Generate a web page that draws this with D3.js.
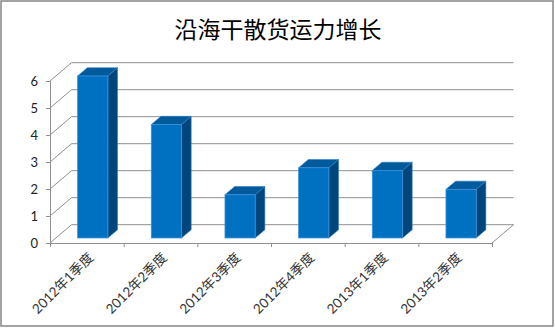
<!DOCTYPE html>
<html>
<head>
<meta charset="utf-8">
<script src="https://cdn.jsdelivr.net/npm/d3@7"></script>
<style>
  html, body { margin: 0; padding: 0; background: #fff; }
  svg { display: block; }
</style>
</head>
<body>
<div id="chart"></div>
<script>
// chart data
const title = "沿海干散货运力增长";
const categories = ["2012年1季度", "2012年2季度", "2012年3季度", "2012年4季度", "2013年1季度", "2013年2季度"];
const values = [6.0, 4.2, 1.6, 2.6, 2.5, 1.8];
const yTicks = [0, 1, 2, 3, 4, 5, 6];

const W = 555, H = 328;
const front = {left: 50, right: 492, top: 81, bottom: 243};
// depth of the 3D box (back wall offset)
const DX = 21.5, DY = -18.3;
// bars sit between these depth fractions
const d0 = 0.275, d1 = 0.725;

const svg = d3.select("#chart").append("svg")
  .attr("width", W)
  .attr("height", H);

// outer frame
svg.append("rect")
  .attr("x", 1).attr("y", 1)
  .attr("width", W - 3).attr("height", H - 3)
  .attr("fill", "#fff")
  .attr("stroke", "#868686")
  .attr("stroke-width", 1.5);

svg.append("text")
  .attr("x", 278)
  .attr("y", 38)
  .attr("text-anchor", "middle")
  .attr("font-family", "'Noto Sans CJK SC', sans-serif")
  .attr("font-size", 23)
  .attr("fill", "#000")
  .text(title);

const x = d3.scaleBand()
  .domain(categories)
  .range([front.left, front.right])
  .paddingInner(0.59)
  .paddingOuter(0.295);

const xBounds = d3.scaleLinear()
  .domain([0, categories.length])
  .range([front.left, front.right]);

const y = d3.scaleLinear()
  .domain([0, 6])
  .range([front.bottom, front.top]);

const gridColor = "#8f8f8f";
const g = svg.append("g");

// back wall gridlines
g.selectAll(".grid")
  .data(yTicks)
  .join("line")
  .attr("x1", front.left + DX)
  .attr("x2", front.right + DX)
  .attr("y1", d => y(d) + DY)
  .attr("y2", d => y(d) + DY)
  .attr("stroke", gridColor)
  .attr("stroke-width", 1);

// side wall diagonals
g.selectAll(".wall")
  .data(yTicks)
  .join("line")
  .attr("x1", front.left)
  .attr("y1", d => y(d))
  .attr("x2", front.left + DX)
  .attr("y2", d => y(d) + DY)
  .attr("stroke", gridColor)
  .attr("stroke-width", 1);

// floor right edge
g.append("line")
  .attr("x1", front.right).attr("y1", y(0))
  .attr("x2", front.right + DX).attr("y2", y(0) + DY)
  .attr("stroke", gridColor);

// y axis
const yAxis = svg.append("g")
  .attr("transform", `translate(${front.left},0)`)
  .call(d3.axisLeft(y).tickValues(yTicks).tickSize(4).tickPadding(8).tickFormat(d3.format("d")));
yAxis.select(".domain").attr("stroke", gridColor);
yAxis.selectAll(".tick line").attr("stroke", gridColor);
yAxis.selectAll(".tick text")
  .attr("font-family", "Lato, 'Noto Sans', sans-serif")
  .attr("font-size", 13)
  .attr("fill", "#222");

// x axis: ticks between categories
const xAxis = svg.append("g")
  .attr("transform", `translate(0,${front.bottom})`)
  .call(d3.axisBottom(xBounds).ticks(categories.length).tickSize(4).tickFormat(""));
xAxis.select(".domain").attr("stroke", gridColor);
xAxis.selectAll(".tick line").attr("stroke", gridColor);

// category labels
svg.selectAll(".cat")
  .data(categories)
  .join("text")
  .attr("transform", d => `translate(${x(d) + x.bandwidth() / 2 + 4},${front.bottom + 12}) rotate(-45)`)
  .attr("text-anchor", "end")
  .attr("dy", "0.35em")
  .attr("font-family", "Lato, 'Noto Sans CJK SC', sans-serif")
  .attr("font-size", 13.5)
  .attr("fill", "#333")
  .text(d => d);

// 3D bars
const bdx0 = DX * d0, bdy0 = DY * d0;
const bdx = DX * (d1 - d0), bdy = DY * (d1 - d0);
const bars = svg.selectAll(".bar")
  .data(categories.map((c, i) => ({c, v: values[i]})))
  .join("g");

bars.append("polygon") // side
  .attr("points", d => {
    const xr = x(d.c) + x.bandwidth() + bdx0;
    const yt = y(d.v) + bdy0, yb = y(0) + bdy0;
    return [[xr, yt], [xr + bdx, yt + bdy], [xr + bdx, yb + bdy], [xr, yb]].join(" ");
  })
  .attr("fill", "#00467c")
  .attr("stroke", "#2e7fc4")
  .attr("stroke-width", 0.6);

bars.append("polygon") // top
  .attr("points", d => {
    const xl = x(d.c) + bdx0, xr = xl + x.bandwidth();
    const yt = y(d.v) + bdy0;
    return [[xl, yt], [xl + bdx, yt + bdy], [xr + bdx, yt + bdy], [xr, yt]].join(" ");
  })
  .attr("fill", "#005a9c")
  .attr("stroke", "#2e7fc4")
  .attr("stroke-width", 0.6);

bars.append("rect") // front
  .attr("x", d => x(d.c) + bdx0)
  .attr("y", d => y(d.v) + bdy0)
  .attr("width", x.bandwidth())
  .attr("height", d => y(0) - y(d.v))
  .attr("fill", "#0070c0")
  .attr("stroke", "#3b8fd8")
  .attr("stroke-width", 0.8);
</script>
</body>
</html>
